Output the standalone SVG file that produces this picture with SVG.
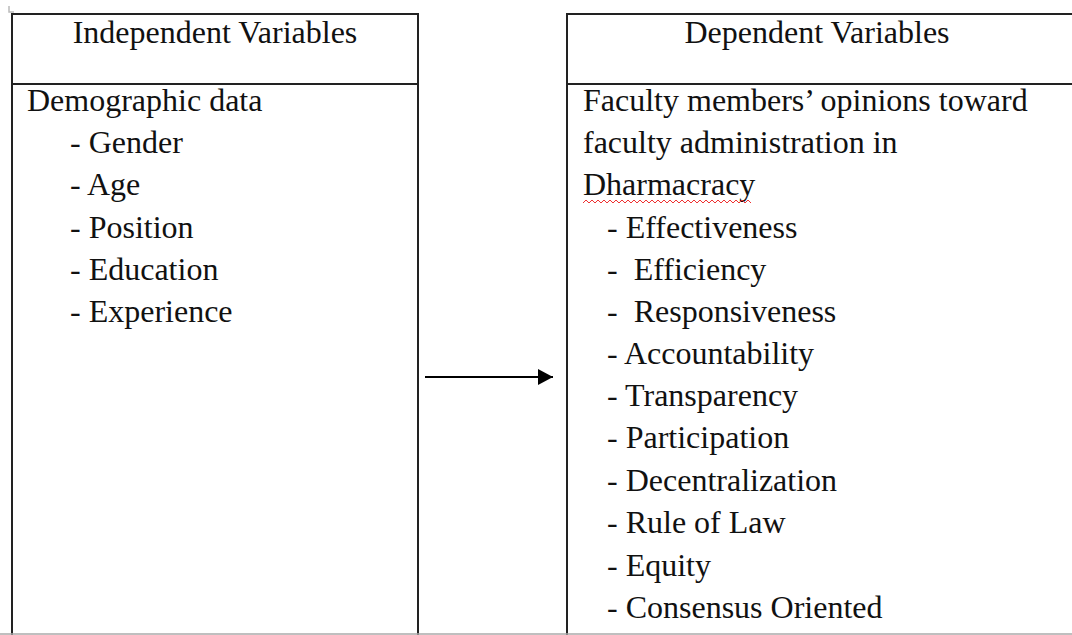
<svg xmlns="http://www.w3.org/2000/svg" width="1072" height="635" viewBox="0 0 1072 635">
<defs>
<style>
.box{fill:#fff;stroke:#222;stroke-width:2}
.t{font-family:"Liberation Serif","Times New Roman",serif;font-size:32px;fill:#111}
.h{text-anchor:middle}
</style>
<marker id="ah" markerWidth="16" markerHeight="16" refX="15" refY="8" orient="auto" markerUnits="userSpaceOnUse">
<path d="M0,0 L15,8 L0,16 Z" fill="#000"/>
</marker>
</defs>
<rect width="1072" height="635" fill="#fff"/>
<path d="M9,6 V12 H14" fill="none" stroke="#bbb" stroke-width="1.5"/>
<g id="independent">
<rect class="box" x="12" y="14" width="406" height="630"/>
<line x1="12" y1="84" x2="418" y2="84" stroke="#222" stroke-width="2"/>
<text class="t h" x="215" y="43">Independent Variables</text>
<text class="t" x="27" y="111">Demographic data</text>
<text class="t" x="70" y="153">- Gender</text>
<text class="t" x="70" y="195">- Age</text>
<text class="t" x="70" y="238">- Position</text>
<text class="t" x="70" y="280">- Education</text>
<text class="t" x="70" y="322">- Experience</text>
</g>
<g id="dependent">
<rect class="box" x="567" y="14" width="520" height="630"/>
<line x1="567" y1="84" x2="1080" y2="84" stroke="#222" stroke-width="2"/>
<text class="t h" x="817" y="43">Dependent Variables</text>
<text class="t" x="583" y="111">Faculty members’ opinions toward</text>
<text class="t" x="583" y="153">faculty administration in</text>
<text class="t" x="583" y="195">Dharmacracy</text>
<polyline points="583,203 586,200 589,203 592,200 595,203 598,200 601,203 604,200 607,203 610,200 613,203 616,200 619,203 622,200 625,203 628,200 631,203 634,200 637,203 640,200 643,203 646,200 649,203 652,200 655,203 658,200 661,203 664,200 667,203 670,200 673,203 676,200 679,203 682,200 685,203 688,200 691,203 694,200 697,203 700,200 703,203 706,200 709,203 712,200 715,203 718,200 721,203 724,200 727,203 730,200 733,203 736,200 739,203 742,200 745,203 748,200 751,203" fill="none" stroke="#e33" stroke-width="1"/>
<text class="t" x="607" y="238">- Effectiveness</text>
<text class="t" x="607" y="280" xml:space="preserve">-  Efficiency</text>
<text class="t" x="607" y="322" xml:space="preserve">-  Responsiveness</text>
<text class="t" x="607" y="364">- Accountability</text>
<text class="t" x="607" y="406">- Transparency</text>
<text class="t" x="607" y="448">- Participation</text>
<text class="t" x="607" y="491">- Decentralization</text>
<text class="t" x="607" y="533">- Rule of Law</text>
<text class="t" x="607" y="576">- Equity</text>
<text class="t" x="607" y="618">- Consensus Oriented</text>
</g>
<line x1="0" y1="634" x2="1072" y2="634" stroke="#aaa" stroke-width="1.5"/>
<g id="connectors">
<line x1="425" y1="377" x2="553" y2="377" stroke="#000" stroke-width="2" marker-end="url(#ah)"/>
</g>
</svg>
